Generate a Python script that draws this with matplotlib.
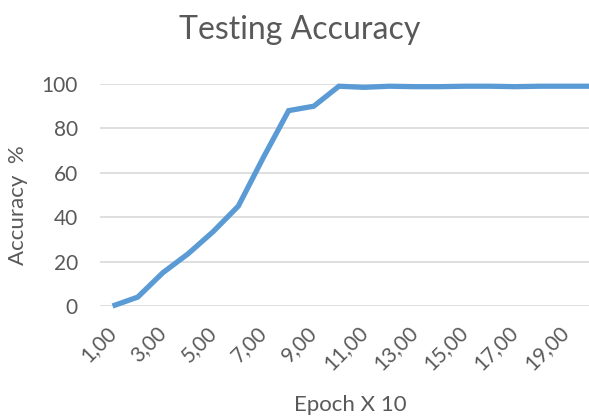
import numpy as np
import matplotlib.pyplot as plt
import matplotlib.transforms as mtransforms

# data
epochs = list(range(1, 21))
accuracy = [0, 4, 15, 23.5, 33.5, 45, 67, 88, 90, 99,
            98.5, 99, 98.8, 98.8, 99, 99, 98.8, 99, 99, 99]
tick_labels = ["%d,00" % e for e in epochs]

grey = "#595959"
blue = "#5B9BD5"

plt.rcParams['font.family'] = ['Lato', 'DejaVu Sans']

fig = plt.figure(figsize=(5.89, 4.19), dpi=100)
ax = fig.add_axes([100 / 589, 1 - 306 / 419, 503 / 589, 222 / 419])

ax.plot(epochs, accuracy, color=blue, linewidth=3.8, solid_joinstyle='miter',
        solid_capstyle='butt', clip_on=False)

ax.set_xlim(0.5, 20.5)
ax.set_ylim(0, 100)
ax.set_yticks(np.arange(0, 101, 20))
ax.yaxis.grid(True, color="#D9D9D9", linewidth=1.2)
ax.set_axisbelow(True)
for s in ax.spines.values():
    s.set_visible(False)
ax.tick_params(axis='both', length=0, colors=grey, labelsize=15)
ax.tick_params(axis='y', pad=16)

ax.set_xticks(epochs[::2])
ax.set_xticklabels(tick_labels[::2], rotation=45, ha='right',
                   rotation_mode='anchor')
ax.tick_params(axis='x', pad=14)
# nudge the rotated labels so their upper end sits at the tick, like Excel
shift = mtransforms.ScaledTranslation(-0.07, 0.03, fig.dpi_scale_trans)
for lbl in ax.get_xticklabels():
    lbl.set_transform(lbl.get_transform() + shift)

fig.text(18 / 589, 1 - 205 / 419, "Accuracy  %", color=grey, fontsize=16,
         rotation=90, ha='center', va='center')
fig.text(350 / 589, 1 - 405 / 419, "Epoch X 10", color=grey, fontsize=16,
         ha='center', va='center')
fig.text(300 / 589, 1 - 30 / 419, "Testing Accuracy", color=grey,
         fontsize=23, ha='center', va='center')

fig.savefig("out.png", dpi=100)
